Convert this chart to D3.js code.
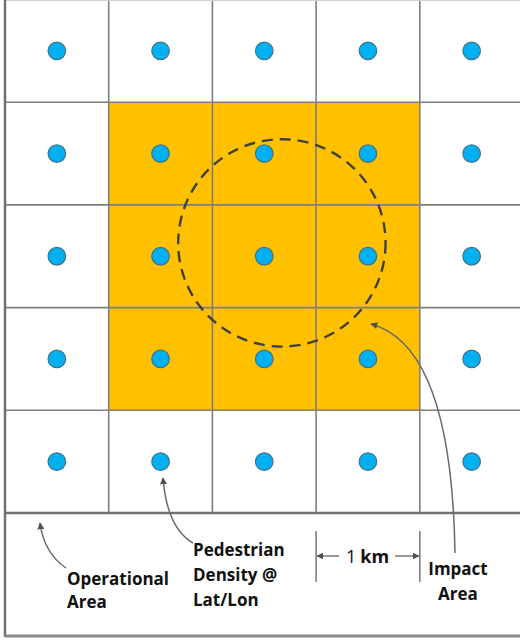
<!DOCTYPE html>
<html>
<head>
<meta charset="utf-8">
<script src="https://cdn.jsdelivr.net/npm/d3@7"></script>
<style>
  body { margin: 0; background: #fff; }
  svg { display: block; }
  text { font-family: "Open Sans", Lato, sans-serif; font-weight: bold; fill: #111; }
</style>
</head>
<body>
<div id="chart"></div>
<script>
// grid of 5x5 one-km cells
const cols = [0, 1, 2, 3, 4];
const rows = [0, 1, 2, 3, 4];
// cells inside the impact area (col, row)
const impactCells = [
  [1, 1], [2, 1], [3, 1],
  [1, 2], [2, 2], [3, 2],
  [1, 3], [2, 3], [3, 3]
];
// impact circle, in cell units (centre col, centre row, radius)
const impactCircle = [2.67, 2.37, 1.0];
const labelOperational = ["Operational", "Area"];
const labelPedestrian = ["Pedestrian", "Density @", "Lat/Lon"];
const labelImpact = ["Impact", "Area"];
const labelScale = ["1", "km"];

const width = 520, height = 640;

const svg = d3.select("#chart").append("svg")
  .attr("width", width)
  .attr("height", height);

//scales from cell index to pixels
const x = d3.scaleLinear().domain([0, 5]).range([5, 523.5]);
const y = d3.scaleLinear().domain([0, 5]).range([-0.5, 513]);

const defs = svg.append("defs");
defs.append("marker")
  .attr("id", "head")
  .attr("viewBox", "0 0 10 10")
  .attr("refX", 9).attr("refY", 5)
  .attr("markerWidth", 7).attr("markerHeight", 7)
  .attr("markerUnits", "userSpaceOnUse")
  .attr("orient", "auto")
  .append("path")
  .attr("d", "M0,0 L10,5 L0,10 z")
  .attr("fill", "#505050");

// orange impact cells
svg.append("g").selectAll("rect")
  .data(impactCells)
  .enter()
  .append("rect")
  .attr("x", d => x(d[0]))
  .attr("y", d => y(d[1]))
  .attr("width", x(1) - x(0))
  .attr("height", y(1) - y(0))
  .attr("fill", "#FFC000");

// grid lines
const grid = svg.append("g").attr("stroke", "#7f7f7f").attr("stroke-width", 1.6);
grid.selectAll(".v")
  .data([1, 2, 3, 4])
  .enter()
  .append("line")
  .attr("x1", d => x(d)).attr("x2", d => x(d))
  .attr("y1", y(0)).attr("y2", y(5));
grid.selectAll(".h")
  .data([1, 2, 3, 4])
  .enter()
  .append("line")
  .attr("x1", x(0)).attr("x2", width)
  .attr("y1", d => y(d)).attr("y2", d => y(d));

// top edge, faint
svg.append("line")
  .attr("x1", x(0)).attr("x2", width)
  .attr("y1", 0.5).attr("y2", 0.5)
  .attr("stroke", "#d0d0d0").attr("stroke-width", 1);

// operational area border and bottom panel
svg.append("line")
  .attr("x1", x(0)).attr("x2", x(0))
  .attr("y1", 0).attr("y2", 637)
  .attr("stroke", "#707070").attr("stroke-width", 2.5);
svg.append("line")
  .attr("x1", x(0)).attr("x2", width)
  .attr("y1", y(5)).attr("y2", y(5))
  .attr("stroke", "#707070").attr("stroke-width", 2.5);
svg.append("line")
  .attr("x1", x(0)).attr("x2", width)
  .attr("y1", 636).attr("y2", 636)
  .attr("stroke", "#8c8c8c").attr("stroke-width", 3);

// pedestrian density points, one per cell
const pts = [];
rows.forEach(r => cols.forEach(c => pts.push([c, r])));
svg.append("g").selectAll("circle")
  .data(pts)
  .enter()
  .append("circle")
  .attr("cx", d => x(d[0] + 0.5))
  .attr("cy", d => y(d[1] + 0.5))
  .attr("r", 8.8)
  .attr("fill", "#00B0F0")
  .attr("stroke", "#41718a")
  .attr("stroke-width", 1.2);

// dashed impact circle
svg.append("circle")
  .attr("cx", x(impactCircle[0]))
  .attr("cy", y(impactCircle[1]))
  .attr("r", (x(1) - x(0)) * impactCircle[2])
  .attr("fill", "none")
  .attr("stroke", "#404040")
  .attr("stroke-width", 2.4)
  .attr("stroke-dasharray", "11 7");

// callout arrows
const arrows = svg.append("g")
  .attr("fill", "none")
  .attr("stroke", "#6a6a6a")
  .attr("stroke-width", 1.5);
arrows.append("path")
  .attr("d", "M66,568 Q44,553 40,523")
  .attr("marker-end", "url(#head)");
arrows.append("path")
  .attr("d", "M193,543 Q167,528 163,478")
  .attr("marker-end", "url(#head)");
arrows.append("path")
  .attr("d", "M455,553 C453,430 430,340 371,324")
  .attr("marker-end", "url(#head)");

// 1 km dimension
const dim = svg.append("g").attr("stroke", "#7f7f7f").attr("stroke-width", 1.6);
[x(3), x(4)].forEach(px => {
  dim.append("line")
    .attr("x1", px).attr("x2", px)
    .attr("y1", 531).attr("y2", 582);
});
dim.append("line")
  .attr("x1", 339).attr("x2", x(3) + 1)
  .attr("y1", 556).attr("y2", 556)
  .attr("marker-end", "url(#head)");
dim.append("line")
  .attr("x1", 395).attr("x2", x(4) - 1)
  .attr("y1", 556).attr("y2", 556)
  .attr("marker-end", "url(#head)");

const scaleText = svg.append("text")
  .attr("x", 346).attr("y", 563)
  .style("font-size", "18px");
scaleText.append("tspan").style("font-weight", "normal").text(labelScale[0]);
scaleText.append("tspan").attr("dx", 4).text(labelScale[1]);

// labels
function block(lines, px, py, step, anchor) {
  svg.append("g").selectAll("text")
    .data(lines)
    .enter()
    .append("text")
    .attr("x", px)
    .attr("y", (d, i) => py + i * step)
    .attr("text-anchor", anchor)
    .style("font-size", "17px")
    .text(d => d);
}
block(labelOperational, 67, 585, 23, "start");
block(labelPedestrian, 193, 556, 25, "start");
block(labelImpact, 458, 575, 25, "middle");
</script>
</body>
</html>
